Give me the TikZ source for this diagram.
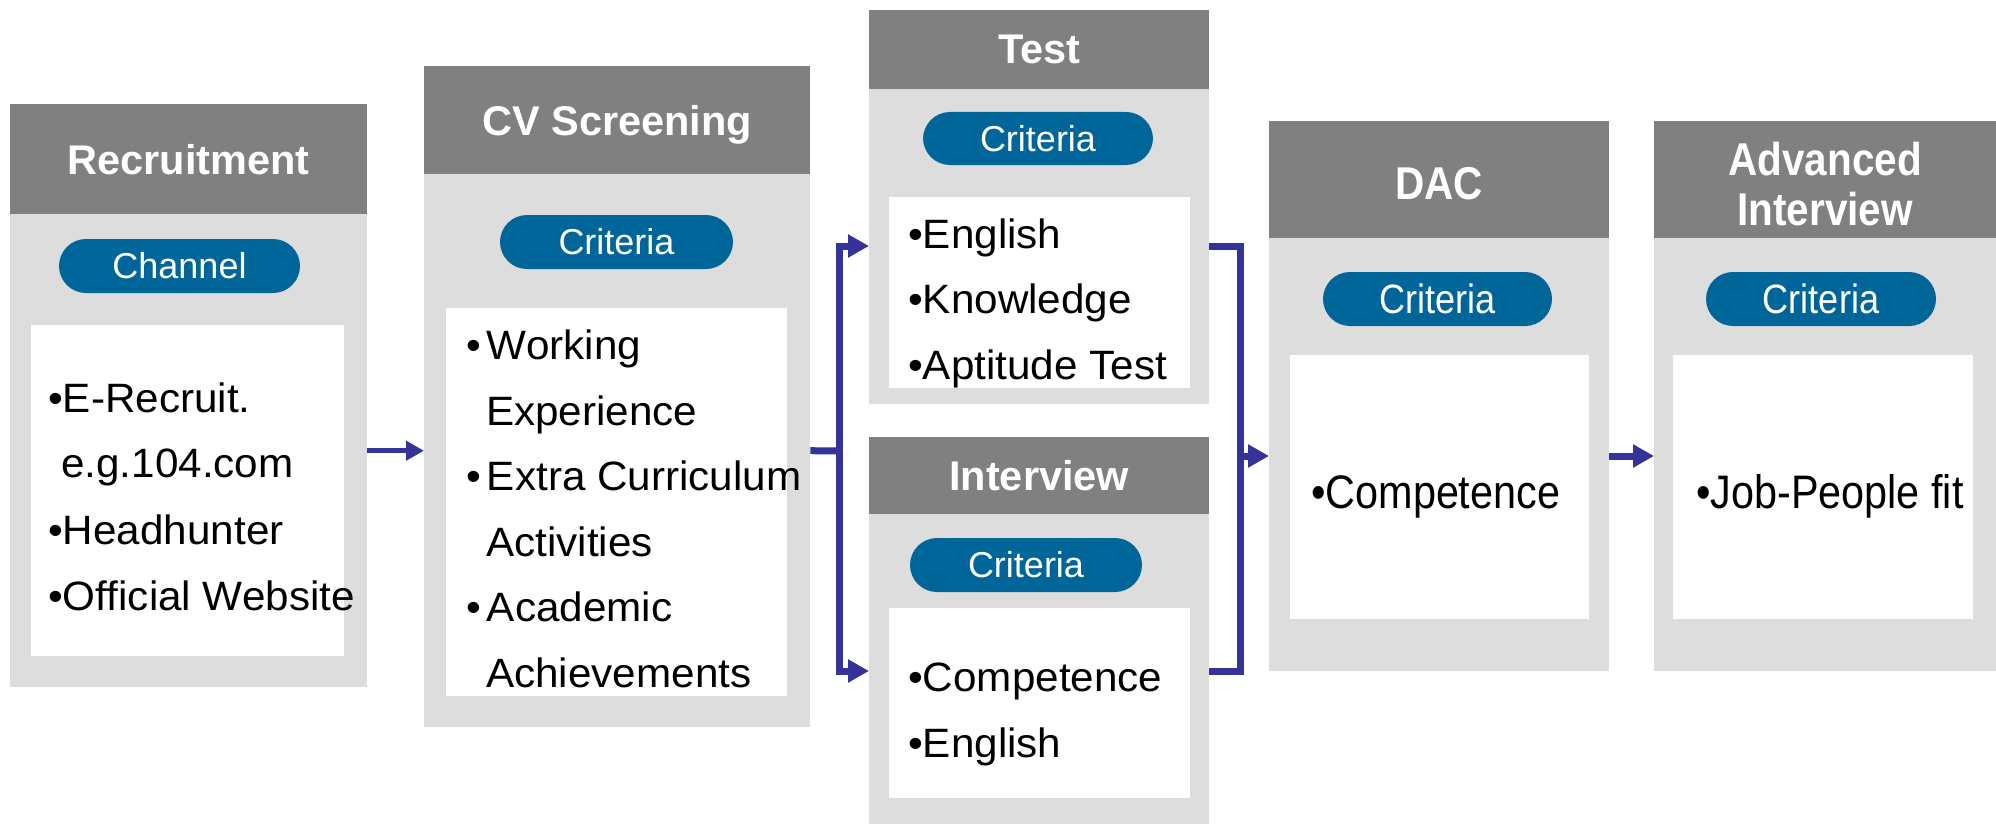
\documentclass[tikz,border=0pt]{standalone}
\usepackage{fontspec}
\setmainfont{Liberation Sans}
\newfontfamily\bodysf[FakeStretch=1.03]{Liberation Sans}
\newfontfamily\narrowsf[FakeStretch=0.88]{Liberation Sans}
\usepackage{tikz}
\usetikzlibrary{arrows.meta}
\definecolor{headgray}{RGB}{128,128,128}
\definecolor{bodygray}{RGB}{221,221,221}
\definecolor{pillblue}{RGB}{0,102,153}
\definecolor{flowblue}{RGB}{51,51,153}
\begin{document}
\begin{tikzpicture}[x=1pt,y=-1pt]
\tikzstyle{stagehead}=[fill=headgray,text=white,anchor=north west,inner sep=0pt,align=center,font=\fontsize{41.5}{50}\selectfont\bfseries]
\tikzstyle{headtext}=[text=white,inner sep=0pt,align=center,font=\fontsize{46}{50}\narrowsf\bfseries]
\tikzstyle{stagebody}=[fill=bodygray,anchor=north west,inner sep=0pt]
\tikzstyle{critpill}=[fill=pillblue,text=white,rounded corners=27pt,minimum height=54pt,inner sep=0pt,font=\fontsize{36}{40}\selectfont]
\tikzstyle{critlist}=[fill=white,anchor=north west,inner sep=0pt]
\tikzstyle{crititem}=[anchor=base west,inner sep=0pt,font=\fontsize{41}{50}\bodysf]
\tikzstyle{flowline}=[draw=flowblue,line width=7pt]
\tikzstyle{flowarrow}=[flowline,-{Triangle[length=21pt,width=22pt]}]
\useasboundingbox (0,0) rectangle (1996,824);

\node[stagebody,minimum width=357pt,minimum height=473pt](recB) at (10,214){};
\node[stagehead,minimum width=357pt,minimum height=110pt](recH) at (10,104){Recruitment};
\node[critpill,minimum width=241pt](recP) at (179.5,266){Channel};
\node[critlist,minimum width=313pt,minimum height=331pt](recL) at (31,325){};
\node[crititem](rec1) at (48,412){•E-Recruit.};
\node[crititem](rec2) at (61,477){e.g.104.com};
\node[crititem](rec3) at (48,544){•Headhunter};
\node[crititem](rec4) at (48,610){•Official Website};

\node[stagebody,minimum width=386pt,minimum height=553pt](cvB) at (424,174){};
\node[stagehead,minimum width=386pt,minimum height=108pt,text depth=0pt](cvH) at (424,66){CV Screening};
\node[critpill,minimum width=233pt](cvP) at (616.5,242){Criteria};
\node[critlist,minimum width=341pt,minimum height=388pt](cvL) at (446,308){};
\node[crititem](cv1) at (466,359){•\hspace{6pt}Working};
\node[crititem](cv2) at (486,425){Experience};
\node[crititem](cv3) at (466,490){•\hspace{6pt}Extra Curriculum};
\node[crititem](cv4) at (486,556){Activities};
\node[crititem](cv5) at (466,621){•\hspace{6pt}Academic};
\node[crititem](cv6) at (486,687){Achievements};

\node[stagebody,minimum width=340pt,minimum height=315pt](tstB) at (869,89){};
\node[stagehead,minimum width=340pt,minimum height=79pt](tstH) at (869,10){Test};
\node[critpill,minimum width=230pt,minimum height=53pt](tstP) at (1038,138.5){Criteria};
\node[critlist,minimum width=301pt,minimum height=191pt](tstL) at (889,197){};
\node[crititem](tst1) at (908,248){•English};
\node[crititem](tst2) at (908,313){•Knowledge};
\node[crititem](tst3) at (908,379){•Aptitude Test};

\node[stagebody,minimum width=340pt,minimum height=310pt](intB) at (869,514){};
\node[stagehead,minimum width=340pt,minimum height=77pt](intH) at (869,437){Interview};
\node[critpill,minimum width=232pt](intP) at (1026,565){Criteria};
\node[critlist,minimum width=301pt,minimum height=190pt](intL) at (889,608){};
\node[crititem](int1) at (908,691){•Competence};
\node[crititem](int2) at (908,757){•English};

\node[stagebody,minimum width=340pt,minimum height=433pt](dacB) at (1269,238){};
\node[stagehead,minimum width=340pt,minimum height=117pt](dacH) at (1269,121){};
\node[headtext](dacT) at ([yshift=-4pt]dacH.center){DAC};
\node[critpill,minimum width=229pt,font=\fontsize{41}{45}\narrowsf](dacP) at (1437.5,299){Criteria};
\node[critlist,minimum width=299pt,minimum height=264pt](dacL) at (1290,355){};
\node[crititem,font=\fontsize{47}{50}\narrowsf](dac1) at (1311,508){•Competence};

\node[stagebody,minimum width=342pt,minimum height=433pt](advB) at (1654,238){};
\node[stagehead,minimum width=342pt,minimum height=117pt](advH) at (1654,121){};
\node[headtext](advT) at ([yshift=-4pt]advH.center){Advanced\\Interview};
\node[critpill,minimum width=230pt,font=\fontsize{41}{45}\narrowsf](advP) at (1821,299){Criteria};
\node[critlist,minimum width=300pt,minimum height=264pt](advL) at (1673,355){};
\node[crititem,font=\fontsize{47}{50}\narrowsf](adv1) at (1696,508){•Job-People fit};

\coordinate (split) at (839,451);
\coordinate (merge) at (1240,456);
\draw[flowline,line width=5pt,-{Triangle[length=18pt,width=19pt]}](recB.east)--(cvB.west);
\draw[flowline](cvB.east)--(split);
\draw[flowarrow](split)|-(tstB.west|-0,246);
\draw[flowarrow](split)|-(intB.west|-0,671);
\draw[flowline](tstB.east|-0,246)-|(merge|-0,671)--(intB.east|-0,671);
\draw[flowarrow](merge)--(dacB.west|-merge);
\draw[flowarrow](dacB.east|-merge)--(advB.west|-merge);

\end{tikzpicture}
\end{document}
